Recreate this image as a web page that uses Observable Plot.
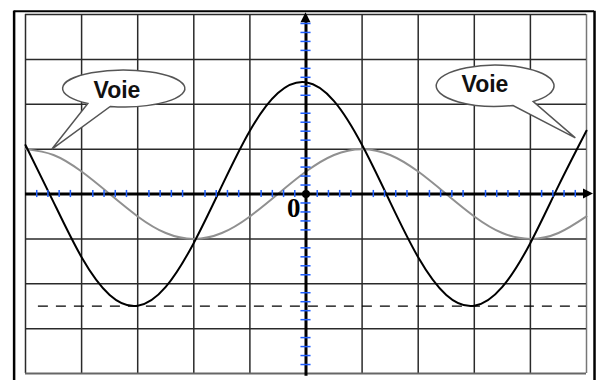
<!DOCTYPE html>
<html><head><meta charset="utf-8">
<script src="https://cdn.jsdelivr.net/npm/d3@7"></script>
<script src="https://cdn.jsdelivr.net/npm/@observablehq/plot@0.6"></script>
<style>html,body{margin:0;padding:0;background:#fff;overflow:hidden}</style>
</head><body><div id="chart"></div>
<script>
// horizontal positions (divisions) where the traces were read
const xDivs = [-5,-4.5,-4,-3.5,-3,-2.5,-2,-1.5,-1,-0.5,0,0.5,1,1.5,2,2.5,3,3.5,4,4.5,5];
// black trace (divisions)
const blackTrace = [1.09,-0.18,-1.41,-2.25,-2.49,-2.07,-1.09,0.18,1.41,2.25,2.49,2.07,1.09,-0.18,-1.41,-2.25,-2.49,-2.07,-1.09,0.18,1.41];
// gray trace (divisions)
const grayTrace = [1,0.87,0.5,0,-0.5,-0.87,-1,-0.87,-0.5,0,0.5,0.87,1,0.87,0.5,0,-0.5,-0.87,-1,-0.87,-0.5];
// grid divisions
const gridX = [-5,-4,-3,-2,-1,0,1,2,3,4,5];
const gridY = [-4,-3,-2,-1,0,1,2,3,4];
// dashed reference level
const dashLevel = [-2.5];
// callouts
const bubbleLabel = ["Voie","Voie"];
const bubbleCx = [-3.24, 3.38];
const bubbleCy = [2.34, 2.40];
const bubbleRx = [1.09, 1.05];
const bubbleRy = [0.41, 0.46];
const tailBaseA = [-3.88, 3.70];
const tailBaseB = [-3.48, 4.06];
const tailTipX = [-4.52, 4.81];
const tailTipY = [0.99, 1.24];
const labelX = [-3.37, 3.19];
const labelY = [2.30, 2.43];
const originLabel = ["0"];

const minorX = d3.range(-50, 51).filter(i => i % 10 !== 0 && i % 2 === 0).map(i => i / 10);
const minorY = d3.range(-40, 41).filter(i => i % 10 !== 0 && i % 2 === 0).map(i => i / 10);

const black = xDivs.map((x, i) => ({x, y: blackTrace[i]}));
const gray = xDivs.map((x, i) => ({x, y: grayTrace[i]}));
const bubbles = bubbleLabel.map((t, i) => ({t, x: labelX[i], y: labelY[i]}));

const svgNS = "http://www.w3.org/2000/svg";
function el(tag, attrs) {
  const e = document.createElementNS(svgNS, tag);
  for (const k in attrs) e.setAttribute(k, attrs[k]);
  return e;
}
function bubbleMark(index, scales) {
  const {x, y} = scales;
  const g = el("g", {});
  for (let i = 0; i < bubbleCx.length; i++) {
    const cx = x(bubbleCx[i]), cy = y(bubbleCy[i]);
    const rx = Math.abs(x(bubbleCx[i] + bubbleRx[i]) - cx);
    const ry = Math.abs(y(bubbleCy[i] + bubbleRy[i]) - cy);
    const onEdge = bx => { const px = x(bx); const t = (px - cx) / rx; return [px, cy + ry * Math.sqrt(Math.max(0, 1 - t * t))]; };
    const A = onEdge(tailBaseA[i]), B = onEdge(tailBaseB[i]);
    const T = [x(tailTipX[i]), y(tailTipY[i])];
    g.appendChild(el("path", {
      d: `M${A[0]},${A[1]}A${rx},${ry} 0 1 1 ${B[0]},${B[1]}L${T[0]},${T[1]}Z`,
      fill: "#fff", stroke: "#555", "stroke-width": 1.5, "stroke-linejoin": "miter"
    }));
  }
  return g;
}
const axisEnds = {xTip: 5.125, yTip: 4.04, yBottom: -4.06};
function arrowHeads(index, scales) {
  const {x, y} = scales;
  const g = el("g", {fill: "#000"});
  const xt = x(axisEnds.xTip), x0 = y(0);
  g.appendChild(el("path", {d: `M${xt},${x0}L${xt - 10},${x0 - 5}L${xt - 10},${x0 + 5}Z`}));
  const yt = y(axisEnds.yTip), y0 = x(0);
  g.appendChild(el("path", {d: `M${y0},${yt}L${y0 - 5},${yt + 10}L${y0 + 5},${yt + 10}Z`}));
  return g;
}
const frameEdges = {left: -5.203, right: 5.143, top: 4.074, bottom: -4.32};

const chart = Plot.plot({
  width: 596, height: 380,
  marginLeft: 25, marginRight: 10, marginTop: 14, marginBottom: 7,
  x: {domain: [-5, 5], axis: null},
  y: {domain: [-4, 4], axis: null},
  style: {background: "#fff", overflow: "visible"},
  marks: [
    // outer frame
    Plot.ruleX([frameEdges.left, frameEdges.right], {y1: frameEdges.bottom, y2: frameEdges.top, stroke: "#000", strokeWidth: 2.5}),
    Plot.ruleY([frameEdges.top], {x1: frameEdges.left, x2: frameEdges.right, stroke: "#000", strokeWidth: 2}),
    // grid
    Plot.ruleX(gridX.filter(d => d < 5), {y1: -4, y2: 4, stroke: "#2a2a2a", strokeWidth: 1.5}),
    Plot.ruleX([5], {y1: -4, y2: 4, stroke: "#777", strokeWidth: 1.5}),
    Plot.ruleY(gridY.filter(d => d > -4), {x1: -5, x2: 5, stroke: "#2a2a2a", strokeWidth: 1.5}),
    Plot.ruleY([-4], {x1: -5, x2: 5, stroke: "#666", strokeWidth: 2}),
    // dashed level
    Plot.ruleY(dashLevel, {x1: -4.77, x2: 5, stroke: "#000", strokeWidth: 1.3, strokeDasharray: "10,8"}),
    // callouts
    bubbleMark,
    Plot.text(bubbles, {x: "x", y: "y", text: "t", fontFamily: "Liberation Sans", fontWeight: "bold", fontSize: 23, fill: "#111"}),
    // traces
    Plot.line(gray, {x: "x", y: "y", curve: "natural", stroke: "#909090", strokeWidth: 2}),
    Plot.line(black, {x: "x", y: "y", curve: "natural", stroke: "#000", strokeWidth: 2}),
    // axes
    Plot.ruleY([0], {x1: -5, x2: axisEnds.xTip - 0.1, stroke: "#000", strokeWidth: 3}),
    Plot.ruleX([0], {y1: axisEnds.yBottom, y2: axisEnds.yTip - 0.1, stroke: "#000", strokeWidth: 3}),
    arrowHeads,
    Plot.ruleX(minorX, {y1: -0.08, y2: 0.08, stroke: "#1f5fff", strokeWidth: 1.5}),
    Plot.ruleY(minorY, {x1: -0.09, x2: 0.09, stroke: "#1f5fff", strokeWidth: 1.5}),
    Plot.dot([{x: 0, y: 0}], {x: "x", y: "y", r: 4, fill: "#000"}),
    Plot.text(originLabel, {x: -0.22, y: -0.31, text: d => d, fontFamily: "Liberation Serif", fontWeight: "bold", fontSize: 27, fill: "#000"})
  ]
});
document.getElementById("chart").appendChild(chart);
</script>
</body></html>
